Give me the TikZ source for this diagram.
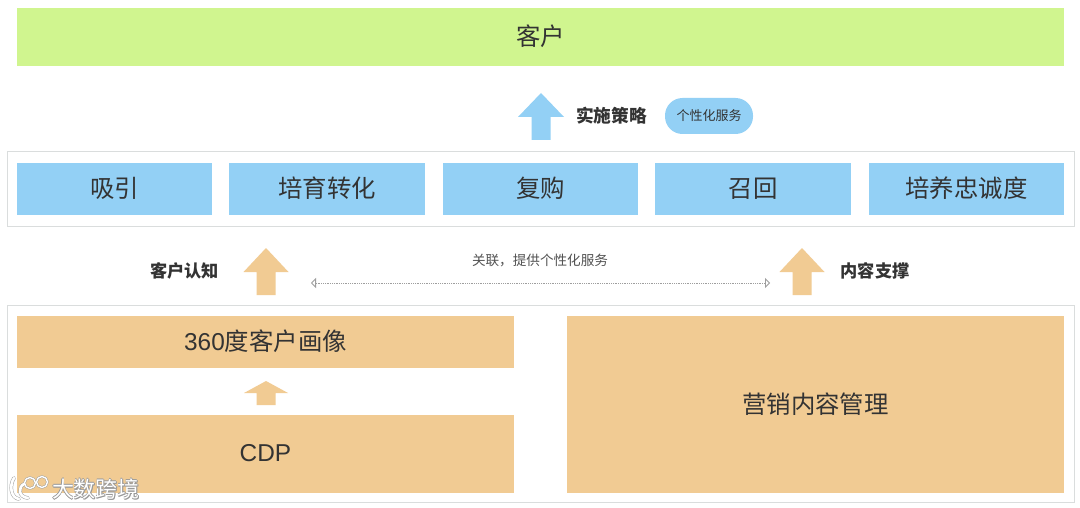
\documentclass[tikz,border=0pt]{standalone}
\usepackage{fontspec}
\setmainfont{Noto Sans CJK SC}
\newfontfamily\latinface{Liberation Sans}
\usetikzlibrary{arrows.meta}
\definecolor{cgreen}{HTML}{D0F58F}
\definecolor{cblue}{HTML}{93D0F5}
\definecolor{corange}{HTML}{F1CB93}
\definecolor{cframe}{HTML}{DADDDD}
\definecolor{ctext}{HTML}{333333}
\definecolor{cmark}{HTML}{A0A0A0}
\newcommand{\sz}[1]{\fontsize{#1pt}{#1pt}\selectfont}
\tikzset{
  x=1pt,y=-1pt,
  frame/.style={draw=cframe,line width=1pt,fill=white},
  bigtext/.style={text=ctext,font=\sz{24.4}},
  labeltext/.style={text=ctext,font=\sz{17.2}\bfseries},
  smalltext/.style={text=ctext!85,font=\sz{13.6}},
  watermark/.style={font=\sz{22},text=white},
  watermarkshadow/.style={font=\sz{22},text=black!40},
}
% \fillbox{name}{x1}{y1}{x2}{y2}{colour}{text}
\newcommand{\fillbox}[7]{%
  \fill[#6] (#2,#3) rectangle (#4,#5);
  \node[bigtext] (#1) at ({(#2+#4)/2},{(#3+#5)/2-0.5}) {#7};}
% \uparrowblock{cx}{tip}{neck}{bottom}{headhalf}{shafthalf}{colour}
\newcommand{\uparrowblock}[7]{%
  \fill[#7] (#1,#2) -- ({#1+#5},#3) -- ({#1+#6},#3) -- ({#1+#6},#4) -- ({#1-#6},#4) -- ({#1-#6},#3) -- ({#1-#5},#3) -- cycle;}
\begin{document}
\begin{tikzpicture}
\useasboundingbox (0,0) rectangle (1080,508);
\fill[white] (0,0) rectangle (1080,508);
% frames
\draw[frame] (7.5,151.5) rectangle (1074.5,226.5);
\draw[frame] (7.5,305.5) rectangle (1074.5,502.5);
% top
\fillbox{cust}{17}{8}{1064}{66}{cgreen}{客户}
% row of blue
\fillbox{b1}{17}{163}{212}{215}{cblue}{吸引}
\fillbox{b2}{229}{163}{425}{215}{cblue}{培育转化}
\fillbox{b3}{443}{163}{638}{215}{cblue}{复购}
\fillbox{b4}{655}{163}{851}{215}{cblue}{召回}
\fillbox{b5}{869}{163}{1064}{215}{cblue}{培养忠诚度}
% orange
\fillbox{o1}{17}{316}{514}{368}{corange}{{\latinface 360}度客户画像}
\fillbox{o2}{17}{415}{514}{493}{corange}{{\latinface CDP}}
\fillbox{o3}{567}{316}{1064}{493}{corange}{营销内容管理}
% block arrows
\uparrowblock{541}{93}{117}{140}{23}{9.5}{cblue}
\uparrowblock{266}{248}{272}{295}{22.5}{9.5}{corange}
\uparrowblock{802}{248}{272}{295}{22.5}{9.5}{corange}
\uparrowblock{266}{381}{393}{405}{22}{9.5}{corange}
% labels
\node[labeltext,font=\sz{17.7}\bfseries] (impl) at (611.5,116) {实施策略};
\node[fill=cblue,rounded corners=17.5pt,minimum width=88pt,minimum height=36pt,inner sep=0pt,text=ctext,font=\sz{13}] (pill) at (709,116) {个性化服务};
\node[labeltext] (aware) at (184.5,271) {客户认知};
\node[labeltext] (support) at (875,271) {内容支撑};
\node[smalltext] (rel) at (540,261) {关联，提供个性化服务};
% dotted link
\coordinate (la) at (311,283);
\coordinate (lb) at (770,283);
\draw[densely dotted,draw=black!38,line width=0.8pt,{Triangle[open,length=5pt,width=10pt,fill=white]}-{Triangle[open,length=5pt,width=10pt,fill=white]}] (la) -- (lb);
% watermark
\foreach \ox/\oy in {-0.7/0,0.7/0,0/-0.7,0/0.7,0.8/0.8}{
  \node[watermarkshadow] at (96+\ox,489+\oy) {大数跨境};
}
\node[watermark] (wm) at (96,489) {大数跨境};
\foreach \c/\lw/\lc in {cmark/3.6/2.4,white/2.6/1.4}{
  \draw[\c,line width=\lw pt,line cap=round] (14,478) .. controls (9,486) and (11,498) .. (19,499);
  \draw[\c,line width=\lw pt,line cap=round] (24,484) .. controls (18,487) and (18,497) .. (28,498);
  \draw[\c,line width=\lc pt] (30,483) circle[radius=5.5];
  \draw[\c,line width=\lc pt] (42,482) circle[radius=5.5];
}
\end{tikzpicture}
\end{document}
